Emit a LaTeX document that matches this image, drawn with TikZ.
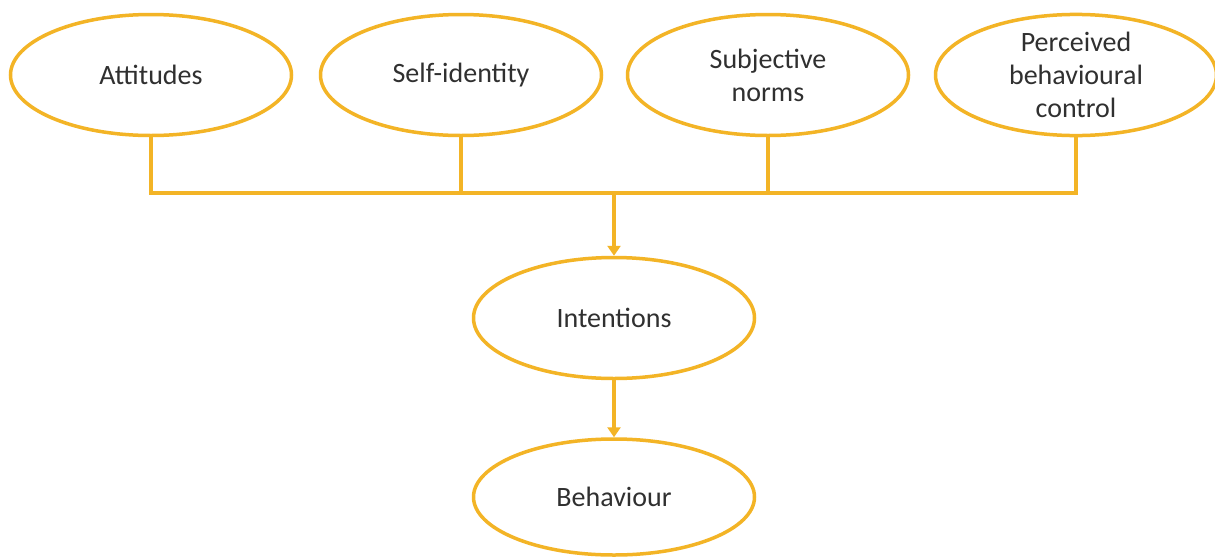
\documentclass[tikz,border=0pt]{standalone}
\usepackage{fontspec}
\setmainfont{Carlito}
\usetikzlibrary{arrows.meta,shapes.geometric}
\definecolor{gold}{RGB}{243,180,38}
\definecolor{txt}{RGB}{48,48,48}
\begin{document}
\begin{tikzpicture}[x=1pt,y=-1pt,
  oval/.style={ellipse, draw=gold, line width=3.5pt, fill=white,
    minimum width=281pt, minimum height=121pt, inner sep=0pt,
    font=\fontsize{28}{33}\selectfont, text=txt, align=center},
  link/.style={draw=gold, line width=3.5pt},
  arr/.style={link, -{Triangle[width=13pt,length=10pt]}}]
\fill[white] (0,0) rectangle (1215,557);
\useasboundingbox (0,0) rectangle (1215,557);
\node[oval] (att) at (151,75) {Attitudes};
\node[oval] (sid) at (461,75) {Self-identity};
\node[oval] (sub) at (768,75) {Subjective\\norms};
\node[oval] (per) at (1076,75) {Perceived\\behavioural\\control};
\node[oval] (int) at (614,318) {Intentions};
\node[oval, minimum height=116pt] (beh) at (614,497) {Behaviour};
\coordinate (j) at (614,193);
\draw[link] (att.south) |- (per.south |- j) -- (per.south);
\draw[link] (sid.south) -- (sid.south |- j);
\draw[link] (sub.south) -- (sub.south |- j);
\draw[arr] (j) -- (int.north);
\draw[arr] (int.south) -- (beh.north);
\end{tikzpicture}
\end{document}
